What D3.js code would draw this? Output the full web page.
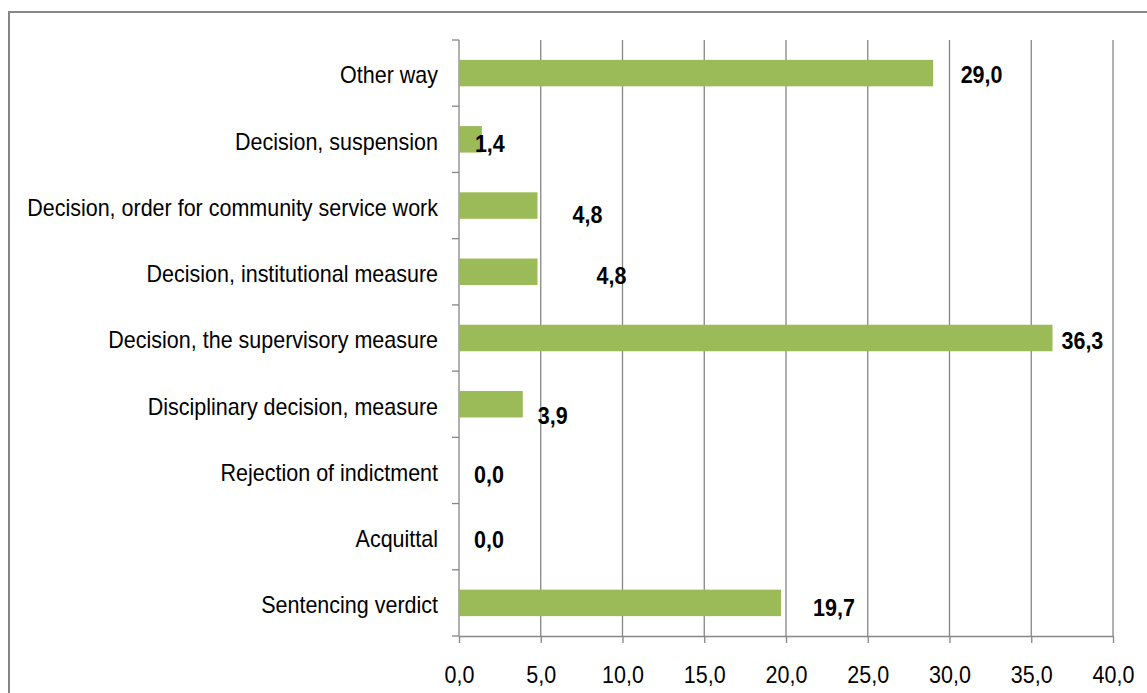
<!DOCTYPE html>
<html>
<head>
<meta charset="utf-8">
<script src="https://cdn.jsdelivr.net/npm/d3@7"></script>
<style>
  html, body { margin: 0; padding: 0; background: #ffffff; }
  svg { display: block; }
  text { font-family: "Liberation Sans", Arial, sans-serif; }
</style>
</head>
<body>
<svg id="chart" width="1147" height="693"></svg>
<script>
// ---- data ----
const categories = [
  "Other way",
  "Decision, suspension",
  "Decision, order for community service work",
  "Decision, institutional measure",
  "Decision, the supervisory measure",
  "Disciplinary decision, measure",
  "Rejection of indictment",
  "Acquittal",
  "Sentencing verdict"
];
const values = [29.0, 1.4, 4.8, 4.8, 36.3, 3.9, 0.0, 0.0, 19.7];
const xTicks = [0, 5, 10, 15, 20, 25, 30, 35, 40];

// ---- layout (label nudges as placed in the original) ----
const labelNudgeX = [27.5, -7, 35, 59, 9, 15, 15, 15, 32];
const labelNudgeY = [2, 4, 9, 4, 3, 11, 4, 3.5, 5];

const svg = d3.select("#chart");
const W = 1147, H = 693;
const plotL = 459, plotR = 1113, plotT = 40, plotB = 636;
const gridColor = "#868686";
const fs = 23;          // font size
const sx = 0.935;       // horizontal condensing of the text
const fmt = v => d3.format(".1f")(v).replace(".", ",");

// outer frame
svg.append("rect")
  .attr("x", 9).attr("y", 12)
  .attr("width", W + 20).attr("height", H + 20)
  .attr("fill", "none").attr("stroke", gridColor).attr("stroke-width", 2);

const x = d3.scaleLinear().domain([0, 40]).range([plotL, plotR]);
const y = d3.scaleBand().domain(categories).range([plotT, plotB])
  .paddingInner(0.6).paddingOuter(0.3);
const yEdge = d3.scaleLinear().domain([0, categories.length]).range([plotT, plotB]);

// vertical gridlines
svg.append("g").selectAll("line")
  .data(xTicks.filter(t => t > 0))
  .join("line")
  .attr("x1", d => x(d)).attr("x2", d => x(d))
  .attr("y1", plotT).attr("y2", plotB)
  .attr("stroke", gridColor).attr("stroke-width", 1.3);

// bottom axis
const xAxis = svg.append("g")
  .attr("transform", `translate(0,${plotB})`)
  .call(d3.axisBottom(x).tickValues(xTicks).tickFormat(fmt)
        .tickSizeInner(7).tickSizeOuter(0).tickPadding(24));
xAxis.select(".domain").attr("stroke", gridColor).attr("stroke-width", 1.3);
xAxis.selectAll(".tick line").attr("stroke", gridColor).attr("stroke-width", 1.3);
xAxis.selectAll("text").attr("font-size", fs).attr("fill", "#000")
  .attr("font-family", "Liberation Sans, Arial, sans-serif")
  .attr("transform", `scale(${sx},1)`);

// left axis line + ticks at category boundaries
svg.append("line")
  .attr("x1", plotL).attr("x2", plotL)
  .attr("y1", plotT).attr("y2", plotB)
  .attr("stroke", gridColor).attr("stroke-width", 1.3);
svg.append("g").selectAll("line")
  .data(d3.range(categories.length + 1))
  .join("line")
  .attr("x1", plotL - 7).attr("x2", plotL)
  .attr("y1", d => yEdge(d)).attr("y2", d => yEdge(d))
  .attr("stroke", gridColor).attr("stroke-width", 1.3);

// category labels
const yAxis = svg.append("g")
  .attr("transform", `translate(${plotL},2)`)
  .call(d3.axisLeft(y).tickSize(0).tickPadding(21));
yAxis.select(".domain").remove();
yAxis.selectAll("text").attr("font-size", fs).attr("fill", "#000")
  .attr("font-family", "Liberation Sans, Arial, sans-serif")
  .attr("x", -21 / sx)
  .attr("transform", `scale(${sx},1)`)
  .attr("dy", "0.36em");

// bars
svg.append("g").selectAll("rect")
  .data(values)
  .join("rect")
  .attr("x", x(0))
  .attr("y", (d, i) => y(categories[i]))
  .attr("width", d => x(d) - x(0))
  .attr("height", y.bandwidth())
  .attr("fill", "#9bbb59");

// value labels
svg.append("g").attr("transform", `scale(${sx},1)`)
  .selectAll("text")
  .data(values)
  .join("text")
  .attr("x", (d, i) => (x(d) + labelNudgeX[i]) / sx)
  .attr("y", (d, i) => y(categories[i]) + y.bandwidth() / 2 + labelNudgeY[i])
  .attr("dy", "0.36em")
  .attr("font-size", fs)
  .attr("font-weight", "bold")
  .attr("fill", "#000")
  .text(d => fmt(d));
</script>
</body>
</html>
